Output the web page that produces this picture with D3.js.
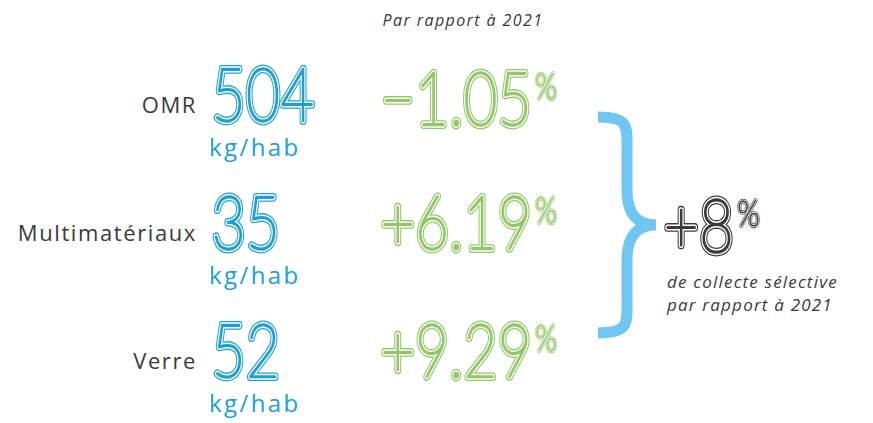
<!DOCTYPE html>
<html>
<head>
<meta charset="utf-8">
<script src="https://cdn.jsdelivr.net/npm/d3@7"></script>
<style>
  body { margin: 0; background: #fff; }
  text { font-family: 'Open Sans', sans-serif; }
</style>
</head>
<body>
<div id="chart"></div>
<script>
(function () {
// data
const categories = ['OMR', 'Multimatériaux', 'Verre']
const tonnage = ['504', '35', '52']          // kg/hab
const evolution = ['−1.05', '+6.19', '+9.29'] // % vs 2021
const unit = 'kg/hab'
const total = '+8'
const totalLabel = ['de collecte sélective', 'par rapport à 2021']
const title = 'Par rapport à 2021'

let width = 873,
  height = 423

let blue = '#1c9fd5',
  green = '#8fc865',
  dark = '#3a3a3a',
  braceColor = '#6ec6f1'

let svg = d3.select('#chart')
  .append('svg')
  .attr('width', width)
  .attr('height', height)

// one row per category, y = baseline of the big number
let y = d3.scalePoint().domain(categories).range([121, 377])

svg.append('text')
  .attr('x', 463)
  .attr('y', 26)
  .attr('text-anchor', 'middle')
  .style('font-style', 'italic')
  .style('font-size', '16px')
  .style('letter-spacing', '1.4px')
  .style('fill', dark)
  .text(title)

// inline "multi-line" digits: hairline glyphs with stacked strokes
function bigText(parent, x, yy, str, color, pct, sx) {
  let g = parent.append('g')
    .attr('transform', `translate(${x},${yy}) scale(${sx},1)`)
  let layers = [
    { w: 8, c: color },
    { w: 5.4, c: '#fff' },
    { w: 2.4, c: color }
  ]
  layers.forEach(l => {
    let t = g.append('text')
      .attr('x', 0)
      .attr('y', 0)
      .style('font-family', 'Lato, sans-serif')
      .style('font-weight', 100)
      .style('font-size', '74px')
      .style('letter-spacing', '1px')
      .style('fill', l.c)
      .style('stroke', l.c)
      .style('stroke-width', l.w)
      .style('stroke-linejoin', 'round')
      .text(str)
    if (pct) {
      t.append('tspan')
        .attr('dy', -26)
        .attr('dx', 4)
        .style('font-size', '36px')
        .style('stroke-width', l.w * 0.55)
        .text('%')
    }
  })
  return g
}

categories.forEach((c, i) => {
  let yy = y(c)
  svg.append('text')
    .attr('x', 197)
    .attr('y', yy - 8)
    .attr('text-anchor', 'end')
    .style('font-size', '22px')
    .style('letter-spacing', '1.6px')
    .style('fill', dark)
    .text(c)

  bigText(svg, 212, yy, tonnage[i], blue, false, 0.78)

  svg.append('text')
    .attr('x', 209)
    .attr('y', yy + 35)
    .style('font-size', '24px')
    .style('letter-spacing', '2.4px')
    .style('fill', blue)
    .text(unit)

  bigText(svg, 381, yy + (i === 0 ? 4 : 0), evolution[i], green, true, 0.78)
})

// brace
let bx = 598, bTop = 117, bBot = 333, mid = (bTop + bBot) / 2, tip = 656
let p = d3.path()
p.moveTo(bx, bTop)
p.bezierCurveTo(630, bTop, 627, bTop + 10, 627, bTop + 35)
p.lineTo(627, mid - 35)
p.bezierCurveTo(627, mid - 8, 640, mid, tip, mid)
p.bezierCurveTo(640, mid, 627, mid + 8, 627, mid + 35)
p.lineTo(627, bBot - 35)
p.bezierCurveTo(627, bBot - 10, 630, bBot, bx, bBot)
svg.append('path')
  .attr('d', p.toString())
  .style('fill', 'none')
  .style('stroke', braceColor)
  .style('stroke-width', 11)

bigText(svg, 664, 252, total, dark, true, 0.8)

totalLabel.forEach((t, i) => {
  svg.append('text')
    .attr('x', 667)
    .attr('y', 288 + i * 23)
    .style('font-style', 'italic')
    .style('font-size', '17px')
    .style('letter-spacing', '1.2px')
    .style('fill', dark)
    .text(t)
})
})()
</script>
</body>
</html>
